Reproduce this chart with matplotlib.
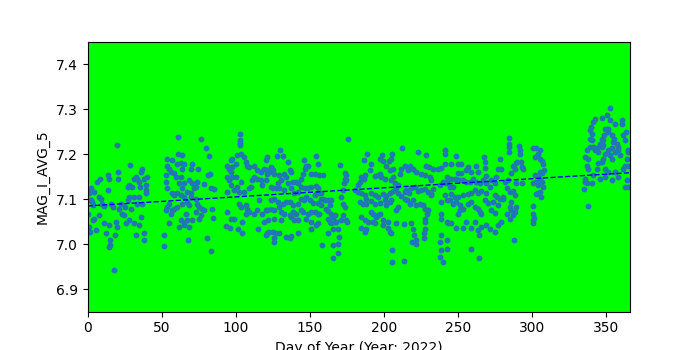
import numpy as np
import matplotlib
matplotlib.use('Agg')
import matplotlib.pyplot as plt

jan_day = [19.6, 18.2, 0.4, 2.2, 4.5, 6.3, 8.5, 13.5, 14.2, 20.9, 20.9, 1.8, 1.1, 5.6, 7.9, 11.2, 12.4, 14.6, 15.3, 15.3,
           14.8, 18.7, 19.1, 20.2, 2.2, 3.4, 7.9, 9.4, 10.1, 11.2, 13.5, 15.7, 16.9, 21.3, 22.5, 23.6, 24.3, 25.2, 25.8, 28.1,
           27.0, 28.1, 29.2, 29.0, 31.5, 32.6, 33.7, 34.8, 37.1, 36.0, 38.2, 40.4, 39.3, 39.3, 39.3, 35.5, 34.8, 31.5, 33.7, 37.1,
           36.0, 34.8, 31.5, 33.0, 38.4, 38.4, 28.1, 27.0, 30.3, 1.1, 1.1, 0.5, 3.4, 4.5, 0.5, 2.7]
jan_mag = [7.221, 6.942, 7.116, 7.124, 7.116, 7.139, 7.146, 7.153, 7.146, 7.161, 7.146, 7.027, 7.039, 7.031, 7.064, 7.046, 7.024, 7.042, 7.009, 6.998,
           6.993, 7.021, 7.050, 7.039, 7.098, 7.087, 7.105, 7.101, 7.090, 7.084, 7.120, 7.090, 7.083, 7.079, 7.090, 7.068, 7.064, 7.083, 7.046, 7.053,
           7.098, 7.105, 7.079, 7.177, 7.146, 7.150, 7.146, 7.139, 7.168, 7.161, 7.146, 7.150, 7.131, 7.113, 7.120, 7.127, 7.105, 7.105, 7.090, 7.090,
           7.061, 7.042, 7.046, 7.020, 7.024, 7.010, 7.131, 7.127, 7.127, 7.113, 7.098, 7.068, 7.053, 7.057, 7.027, 7.094]

mar_day = [61.3, 76.9, 80.2, 82.2, 53.3, 57.3, 61.3, 64.0, 53.9, 55.1, 56.2, 58.4, 60.7, 62.9, 65.2, 70.8, 69.7, 74.8, 64.0, 62.9,
           59.6, 52.8, 52.8, 53.9, 57.3, 58.4, 60.7, 62.9, 65.2, 67.4, 69.7, 71.9, 68.5, 70.8, 73.0, 74.2, 78.7, 81.3, 82.7, 83.1,
           85.4, 65.2, 61.8, 64.0, 55.1, 53.9, 52.8, 56.2, 57.3, 58.4, 60.7, 64.0, 67.4, 68.5, 69.7, 73.0, 74.2, 75.3, 77.5, 78.7,
           76.4, 75.3, 73.0, 70.8, 66.3, 67.0, 65.2, 62.9, 61.8, 65.2, 68.8, 55.1, 51.7, 51.7, 68.1, 80.9, 83.4, 84.3, 84.7]
mar_mag = [7.239, 7.235, 7.213, 7.197, 7.190, 7.188, 7.201, 7.198, 7.175, 7.168, 7.161, 7.159, 7.178, 7.181, 7.179, 7.179, 7.168, 7.168, 7.168, 7.150,
           7.150, 7.153, 7.139, 7.124, 7.113, 7.109, 7.113, 7.109, 7.105, 7.116, 7.113, 7.124, 7.142, 7.135, 7.127, 7.138, 7.133, 7.153, 7.157, 7.124,
           7.122, 7.135, 7.135, 7.124, 7.090, 7.083, 7.076, 7.068, 7.076, 7.079, 7.083, 7.090, 7.094, 7.087, 7.105, 7.101, 7.090, 7.083, 7.079, 7.076,
           7.064, 7.057, 7.072, 7.053, 7.068, 7.053, 7.046, 7.053, 7.039, 7.042, 7.039, 7.046, 7.020, 6.996, 7.010, 7.013, 6.984, 7.079, 7.058]

apr_day = [103.1, 103.1, 103.1, 103.1, 103.8, 101.1, 97.8, 96.6, 95.5, 94.4, 96.6, 97.8, 100.0, 105.6, 106.7, 107.9, 109.0, 112.4, 114.6, 116.9,
           119.1, 121.3, 120.2, 121.3, 94.4, 95.5, 97.8, 100.0, 96.6, 101.1, 103.4, 102.2, 105.6, 109.0, 110.1, 111.2, 112.4, 114.6, 116.9, 118.0,
           120.2, 121.3, 94.4, 98.9, 102.2, 103.4, 106.7, 107.9, 109.0, 112.4, 114.6, 115.7, 118.0, 120.2, 119.1, 121.3, 94.4, 96.6, 98.9, 104.5,
           106.7, 93.3, 96.2, 101.8, 104.5, 115.3, 120.2, 121.3]
apr_mag = [7.245, 7.231, 7.225, 7.220, 7.201, 7.198, 7.190, 7.187, 7.168, 7.175, 7.161, 7.172, 7.179, 7.194, 7.183, 7.175, 7.172, 7.175, 7.164, 7.161,
           7.168, 7.194, 7.187, 7.164, 7.150, 7.142, 7.150, 7.150, 7.131, 7.127, 7.139, 7.116, 7.116, 7.124, 7.127, 7.142, 7.150, 7.146, 7.142, 7.131,
           7.142, 7.157, 7.116, 7.120, 7.090, 7.083, 7.087, 7.079, 7.072, 7.068, 7.076, 7.098, 7.068, 7.076, 7.050, 7.076, 7.072, 7.057, 7.057, 7.050,
           7.068, 7.040, 7.037, 7.033, 7.024, 7.033, 7.020, 7.024]

jun_day = [130.2, 127.7, 132.2, 135.6, 123.9, 125.0, 122.7, 126.1, 129.5, 132.9, 136.3, 137.4, 134.0, 130.6, 128.4, 135.1, 138.5, 140.8, 141.9, 144.1,
           145.3, 146.4, 145.9, 148.6, 147.1, 154.3, 155.4, 153.6, 156.5, 158.8, 150.9,
           123.9, 125.0, 127.3, 129.5, 132.9, 137.4, 139.6, 141.9, 144.1, 146.4, 148.6, 150.9, 154.3, 155.4, 155.4, 153.2, 157.7, 158.8, 159.9, 162.2,
           164.4, 163.3,
           123.9, 126.1, 128.4, 131.8, 134.0, 136.3, 138.5, 141.9, 144.1, 145.9, 147.5, 149.8, 152.0, 155.4, 157.2, 157.7,
           123.9, 126.1, 129.5, 130.6, 132.9, 136.3, 138.5, 140.8, 141.9, 144.1, 145.3, 148.6, 150.9, 153.2, 155.4, 156.5, 161.0, 162.2, 164.4, 166.7,
           165.5, 162.2, 163.3, 164.4, 166.7, 167.8, 170.7, 172.3, 174.5, 175.2, 173.4, 172.3, 171.2,
           121.5, 126.1, 130.6, 137.4, 139.6, 147.5, 150.9, 154.3, 155.4, 150.9,
           122.7, 125.0, 127.3, 129.5, 126.1, 126.1, 134.0, 136.3, 137.4, 141.9, 162.2, 165.5, 168.9, 169.4, 165.5, 168.9, 168.9, 165.5, 158.1,
           175.7, 173.4, 174.5, 173.4, 174.5, 173.0, 170.3, 172.3]
jun_mag = [7.209, 7.196, 7.196, 7.183, 7.172, 7.164, 7.161, 7.157, 7.153, 7.157, 7.164, 7.161, 7.150, 7.142, 7.135, 7.135, 7.139, 7.139, 7.135, 7.146,
           7.157, 7.168, 7.187, 7.173, 7.175, 7.196, 7.179, 7.157, 7.153, 7.153, 7.157,
           7.127, 7.124, 7.124, 7.124, 7.120, 7.124, 7.113, 7.116, 7.127, 7.124, 7.124, 7.127, 7.129, 7.124, 7.113, 7.109, 7.113, 7.101, 7.099, 7.098,
           7.098, 7.087,
           7.098, 7.101, 7.094, 7.090, 7.094, 7.094, 7.087, 7.090, 7.101, 7.098, 7.105, 7.098, 7.092, 7.092, 7.101, 7.087,
           7.079, 7.076, 7.083, 7.072, 7.068, 7.064, 7.072, 7.068, 7.053, 7.076, 7.072, 7.068, 7.072, 7.072, 7.067, 7.068, 7.079, 7.074, 7.068, 7.064,
           7.061, 7.057, 7.050, 7.046, 7.050, 7.050, 7.053, 7.064, 7.053, 7.050, 7.083, 7.090, 7.105,
           7.053, 7.057, 7.053, 7.061, 7.053, 7.057, 7.050, 7.042, 7.047, 7.033,
           7.027, 7.027, 7.024, 7.025, 7.013, 7.005, 7.016, 7.014, 7.018, 7.024, 7.024, 7.033, 7.033, 7.015, 6.998, 7.000, 6.981, 6.968, 6.997,
           7.233, 7.159, 7.153, 7.146, 7.142, 7.135, 7.177, 7.120]

aug_day = [186.5, 188.5, 191.4, 190.3, 186.5, 184.7, 183.6, 186.9, 182.4, 193.7, 195.9, 197.1, 198.2, 199.3, 198.6, 197.1, 201.6, 203.4, 205.6, 204.5,
           206.1, 203.8, 200.5, 205.0, 207.2, 206.1, 209.5, 210.6, 211.7, 212.2, 214.0, 216.2, 217.8, 219.6, 221.8, 223.0, 225.2, 227.5, 228.2, 228.6,
           230.2, 230.9, 232.0, 233.1, 236.5, 238.7, 241.0, 241.2, 241.2, 242.8, 243.2, 242.1, 239.9,
           180.2, 182.4, 184.7, 186.9, 188.1, 191.4, 193.7, 195.9, 199.3, 201.6, 203.8, 206.1, 208.3, 209.5, 211.7, 214.0, 215.1, 216.7, 218.5, 220.7,
           223.0, 225.2, 227.5, 229.7, 231.5, 233.1, 237.6, 241.0,
           183.6, 185.8, 188.1, 191.0, 193.7, 197.1, 200.5, 201.6, 203.8, 204.5, 208.3, 209.5, 214.0, 215.8, 217.3, 219.6, 221.8, 224.1, 226.4, 227.5,
           229.7, 232.0, 238.7, 242.8,
           184.7, 186.9, 189.2, 191.4, 192.6, 194.8, 195.9, 197.1, 192.6, 193.7, 199.3, 199.3, 202.7, 202.7, 203.8, 205.0, 208.3, 213.5, 218.5, 219.6,
           220.3, 219.1, 221.8, 221.8, 227.5, 227.5, 227.5, 227.0, 227.0, 229.3, 238.7, 238.7, 238.3, 237.6, 238.3, 238.1, 239.9, 242.8, 242.8, 242.8,
           184.7, 186.9, 188.1, 205.4, 205.4, 213.5]
aug_mag = [7.187, 7.200, 7.178, 7.164, 7.146, 7.150, 7.139, 7.153, 7.131, 7.151, 7.153, 7.156, 7.150, 7.185, 7.199, 7.190, 7.175, 7.185, 7.201, 7.190,
           7.168, 7.164, 7.146, 7.142, 7.135, 7.150, 7.131, 7.157, 7.168, 7.215, 7.173, 7.164, 7.175, 7.168, 7.161, 7.204, 7.157, 7.153, 7.198, 7.175,
           7.172, 7.150, 7.142, 7.168, 7.168, 7.170, 7.209, 7.200, 7.179, 7.150, 7.142, 7.135, 7.139,
           7.120, 7.116, 7.113, 7.109, 7.101, 7.113, 7.109, 7.105, 7.111, 7.107, 7.113, 7.119, 7.124, 7.113, 7.107, 7.116, 7.120, 7.113, 7.126, 7.127,
           7.119, 7.120, 7.122, 7.116, 7.111, 7.122, 7.131, 7.110,
           7.094, 7.090, 7.090, 7.096, 7.090, 7.092, 7.099, 7.087, 7.094, 7.098, 7.076, 7.082, 7.101, 7.098, 7.090, 7.098, 7.087, 7.090, 7.087, 7.079,
           7.076, 7.109, 7.094, 7.098,
           7.061, 7.053, 7.050, 7.072, 7.068, 7.061, 7.064, 7.068, 7.050, 7.046, 7.053, 7.042, 7.050, 7.035, 7.027, 7.024, 7.047, 7.044, 7.047, 7.033,
           7.020, 7.005, 7.009, 7.001, 7.057, 7.050, 7.033, 7.024, 7.013, 7.068, 7.068, 7.057, 7.020, 7.005, 6.988, 6.972, 6.961, 7.010, 6.990, 7.050,
           7.037, 7.027, 7.033, 6.987, 6.961, 6.963]

oct_day = [248.9, 245.5, 250.0, 252.3, 256.8, 262.4, 267.6, 268.0, 268.0, 269.1, 263.5, 259.0, 255.6, 252.3, 250.0, 247.7, 245.5, 244.4, 246.6, 248.9,
           251.1, 253.4, 255.6, 257.9, 260.1, 262.4, 264.6, 266.9, 269.1, 272.5, 274.8, 275.9, 277.0, 278.2, 279.3, 281.5, 283.8, 284.5, 284.5, 284.5,
           284.5, 286.0, 288.3, 289.4, 291.0, 291.7, 291.7, 292.3, 293.2, 293.9, 290.1, 287.2, 293.2,
           245.5, 247.7, 250.0, 253.4, 256.8, 259.0, 261.3, 263.5, 265.8, 269.1, 271.4, 274.8, 276.6, 278.2, 280.4, 282.7, 284.9, 287.2, 288.3, 289.4,
           244.4, 246.6, 248.9, 251.1, 251.1, 250.0, 253.4, 256.8, 259.0, 261.3, 263.5, 264.6, 265.8, 268.0, 270.3, 273.6, 272.5, 274.8, 277.0, 280.4,
           282.7, 284.9, 286.0, 287.2, 288.3, 289.4, 286.0,
           243.2, 245.5, 248.9, 253.4, 255.6, 259.0, 261.3, 263.5, 264.2, 265.8, 269.1, 271.4, 274.8, 277.0, 279.3, 284.9, 259.0, 264.2, 287.8]
oct_mag = [7.196, 7.179, 7.179, 7.179, 7.172, 7.173, 7.193, 7.183, 7.170, 7.151, 7.161, 7.161, 7.164, 7.159, 7.159, 7.146, 7.146, 7.127, 7.127, 7.146,
           7.142, 7.142, 7.139, 7.139, 7.144, 7.139, 7.135, 7.142, 7.135, 7.142, 7.135, 7.150, 7.168, 7.190, 7.168, 7.139, 7.142, 7.237, 7.224, 7.216,
           7.205, 7.159, 7.168, 7.181, 7.218, 7.209, 7.201, 7.183, 7.172, 7.168, 7.183, 7.175, 7.135,
           7.111, 7.105, 7.105, 7.109, 7.111, 7.114, 7.120, 7.113, 7.119, 7.114, 7.127, 7.109, 7.104, 7.101, 7.105, 7.124, 7.116, 7.119, 7.109, 7.135,
           7.098, 7.090, 7.094, 7.087, 7.076, 7.067, 7.079, 7.090, 7.094, 7.083, 7.079, 7.072, 7.067, 7.098, 7.092, 7.094, 7.076, 7.070, 7.087, 7.101,
           7.068, 7.083, 7.076, 7.064, 7.072, 7.083, 7.094,
           7.047, 7.047, 7.035, 7.035, 7.050, 7.035, 7.050, 7.031, 7.020, 7.039, 7.042, 7.033, 7.027, 7.042, 7.050, 7.055, 6.990, 6.970, 7.010]

nov_day = [300.7, 302.9, 305.2, 304.1, 301.8, 305.2, 306.3, 307.4, 308.1, 306.8, 305.2, 301.8, 304.1, 305.2, 302.9, 300.7, 306.3, 304.1, 307.0, 305.2,
           303.6, 305.9, 300.7, 300.7, 301.4, 300.7, 300.7, 302.9]
nov_mag = [7.213, 7.213, 7.209, 7.201, 7.194, 7.190, 7.185, 7.179, 7.164, 7.159, 7.161, 7.153, 7.151, 7.146, 7.139, 7.135, 7.139, 7.131, 7.127, 7.116,
           7.113, 7.105, 7.084, 7.068, 7.059, 7.053, 7.047, 7.111]

dec_day = [336.7, 335.6, 337.8, 336.7, 337.8, 335.6, 335.6, 336.7, 335.1, 337.8, 340.1, 341.2,
           342.3, 341.2, 339.6, 339.0, 340.1, 339.0, 340.1, 339.0, 341.2, 343.5, 342.3, 344.6, 345.7, 346.8, 348.0, 348.6, 349.1, 350.2, 351.4, 352.7,
           350.2, 347.3, 352.5, 351.4, 353.6, 354.7, 355.9, 355.4, 357.0, 358.1, 359.2, 360.4, 360.4, 361.5, 362.6, 363.3, 364.4, 364.9, 363.7, 362.6,
           361.5, 364.9, 363.7, 362.6, 364.9, 358.1, 355.9, 353.6, 352.5, 351.4, 349.1, 348.0, 346.8, 344.6, 343.5, 345.7, 349.1, 351.4, 353.6, 355.9,
           358.1, 349.1, 348.0, 346.8, 353.6]
dec_mag = [7.209, 7.194, 7.190, 7.175, 7.168, 7.146, 7.139, 7.135, 7.122, 7.084, 7.135, 7.153,
           7.278, 7.272, 7.261, 7.253, 7.246, 7.235, 7.231, 7.216, 7.216, 7.213, 7.209, 7.205, 7.224, 7.235, 7.231, 7.242, 7.257, 7.257, 7.257, 7.304,
           7.287, 7.281, 7.276, 7.250, 7.242, 7.227, 7.268, 7.235, 7.224, 7.216, 7.198, 7.276, 7.268, 7.242, 7.231, 7.250, 7.205, 7.209, 7.190, 7.175,
           7.168, 7.175, 7.142, 7.127, 7.127, 7.209, 7.205, 7.190, 7.198, 7.209, 7.201, 7.190, 7.183, 7.181, 7.168, 7.146, 7.150, 7.161, 7.142, 7.161,
           7.150, 7.168, 7.220, 7.216, 7.215]

# linear trend as drawn in the original
trend_day = [0, 366]
trend_mag = [7.085, 7.159]

days = np.concatenate([jan_day, mar_day, apr_day, jun_day, aug_day, oct_day, nov_day, dec_day])
mags = np.concatenate([jan_mag, mar_mag, apr_mag, jun_mag, aug_mag, oct_mag, nov_mag, dec_mag])

fig, ax = plt.subplots(figsize=(7, 3.5), dpi=100)
ax.set_facecolor('#00ff00')
ax.plot(days, mags, 'o', color='#1f77b4', markersize=3.2, linestyle='none')
ax.plot(trend_day, trend_mag, '--', color='blue', linewidth=1)

ax.set_xlim(0, 366)
ax.set_ylim(6.85, 7.45)
ax.set_xlabel('Day of Year (Year: 2022)')
ax.set_ylabel('MAG_I_AVG_5')

fig.savefig('out.png', dpi=100)
